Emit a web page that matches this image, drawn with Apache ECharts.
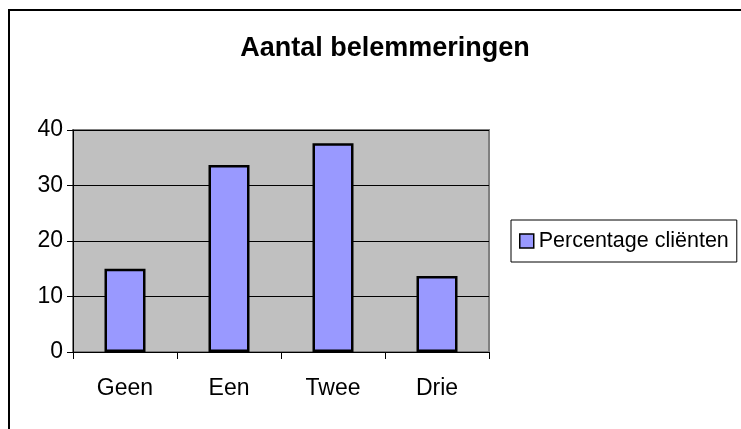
<!DOCTYPE html>
<html>
<head>
<meta charset="utf-8">
<script src="https://cdn.jsdelivr.net/npm/echarts@6/dist/echarts.min.js"></script>
<style>
html,body{margin:0;padding:0;background:#fff;}
#frame{position:absolute;left:8px;top:9px;width:760px;height:440px;border:2px solid #000;box-sizing:border-box;}
#chart{position:absolute;left:0;top:0;width:741px;height:429px;}
</style>
</head>
<body>
<div id="frame"></div>
<div id="chart"></div>
<script>
const titleText = 'Aantal belemmeringen';
const categories = ['Geen', 'Een', 'Twee', 'Drie'];
const seriesName = 'Percentage cliënten';
const values = [15, 33.7, 37.6, 13.7];
const yTicks = { min: 0, max: 40, interval: 10 };

const FONT = '"Liberation Sans", Arial, sans-serif';

const chart = echarts.init(document.getElementById('chart'), null, { renderer: 'canvas' });
chart.setOption({
  backgroundColor: 'transparent',
  animation: false,
  title: {
    text: titleText,
    left: 380,
    textAlign: 'center',
    top: 30,
    textStyle: { fontFamily: FONT, fontWeight: 'bold', fontSize: 27, color: '#000' }
  },
  legend: {
    data: [seriesName],
    left: 511,
    top: 220,
    orient: 'vertical',
    padding: [10, 8, 10, 8],
    backgroundColor: '#fff',
    borderColor: '#000',
    borderWidth: 1,
    borderRadius: 0,
    itemWidth: 14,
    itemHeight: 14,
    icon: 'rect',
    itemStyle: { color: '#9999FF', borderColor: '#000', borderWidth: 1.5 },
    textStyle: { fontFamily: FONT, fontSize: 21.5, color: '#000' }
  },
  grid: {
    left: 73, top: 130, right: 252, bottom: 77,
    show: true,
    backgroundColor: '#C0C0C0',
    borderColor: '#808080',
    borderWidth: 2,
    containLabel: false
  },
  xAxis: {
    type: 'category',
    data: categories,
    boundaryGap: true,
    axisLine: { show: true, lineStyle: { color: '#000', width: 1 } },
    axisTick: { show: true, length: 7, lineStyle: { color: '#000' } },
    axisLabel: { fontFamily: FONT, fontSize: 23, color: '#000', margin: 25 }
  },
  yAxis: {
    type: 'value',
    min: yTicks.min, max: yTicks.max, interval: yTicks.interval,
    axisLine: { show: true, lineStyle: { color: '#000', width: 1 } },
    axisTick: { show: true, length: 6, lineStyle: { color: '#000' } },
    axisLabel: { fontFamily: FONT, fontSize: 23, color: '#000', margin: 10 },
    splitLine: { show: true, lineStyle: { color: '#000', width: 1 } }
  },
  series: [{
    name: seriesName,
    type: 'bar',
    data: values,
    barWidth: 41,
    itemStyle: { color: '#9999FF', borderColor: '#000', borderWidth: 2.5 }
  }]
});
</script>
</body>
</html>
